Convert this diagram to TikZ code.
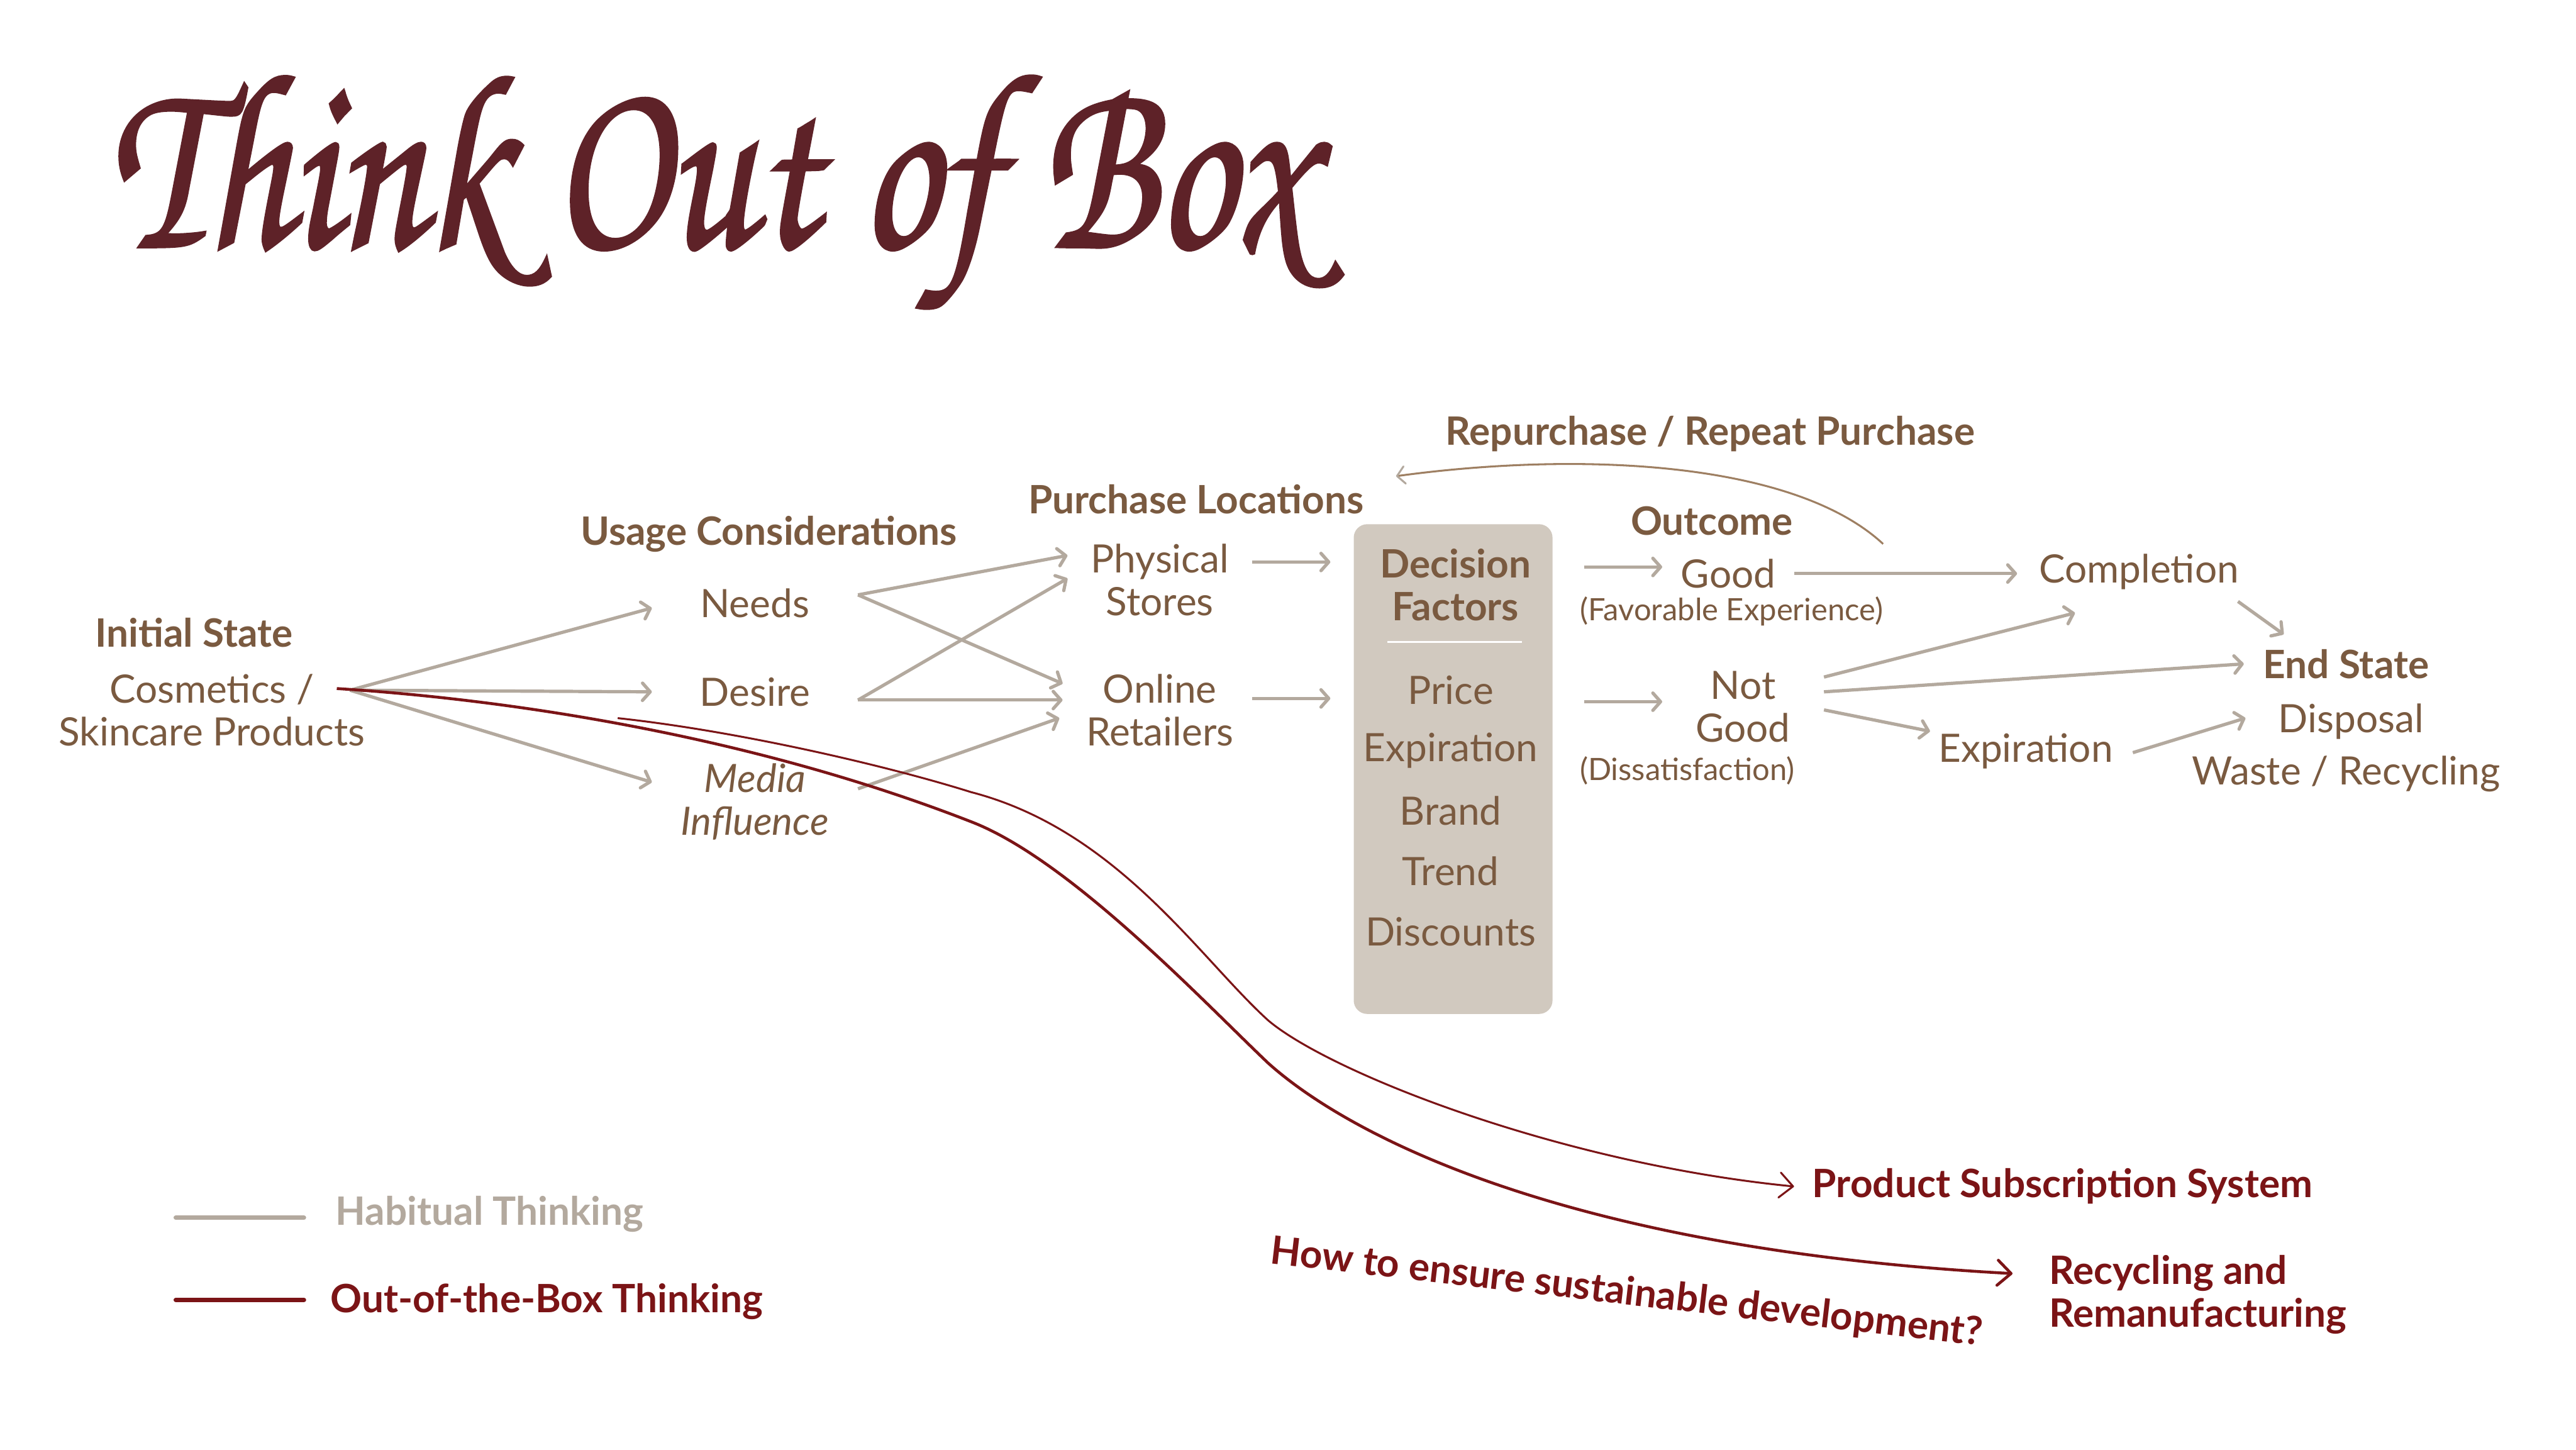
\documentclass[tikz,border=0pt]{standalone}
\usepackage{fontspec}
\setmainfont{Lato}
\newfontfamily\titlefont[FakeBold=1.5]{TeX Gyre Chorus}
\usetikzlibrary{arrows.meta,calc}
\definecolor{ink}{HTML}{7A5A40}
\definecolor{habit}{HTML}{B3A99E}
\definecolor{oob}{HTML}{7B1416}
\definecolor{boxfill}{HTML}{D1C9BF}
\definecolor{loopc}{HTML}{9E7F62}
\definecolor{titlec}{HTML}{5E2228}
\begin{document}
\begin{tikzpicture}[x=0.03cm,y=-0.03cm,
  >={Straight Barb[length=4pt,width=9pt,round]},
  lbl/.style={text=ink,font=\fontsize{20.3}{22.2}\selectfont,align=center,inner sep=0pt},
  head/.style={lbl,font=\fontsize{20.3}{22.2}\selectfont\bfseries},
  small/.style={lbl,font=\fontsize{16}{18}\selectfont},
  habit/.style={draw=habit,line width=1.7pt,->},
  think/.style={draw=oob,->,>={Straight Barb[length=7pt,width=13pt,round]}},
  redtxt/.style={text=oob,font=\fontsize{20.3}{22.2}\selectfont\bfseries,inner sep=0pt,align=left}]
\useasboundingbox (0,0) rectangle (1568,882);
\fill[white] (0,0) rectangle (1568,882);

% title
\node[text=titlec,font=\titlefont\fontsize{100}{100}\selectfont,anchor=base west,yscale=1.3] (title) at (62,150) {Think Out of Box};

% initial state
\node[head] (initial) at (118,385) {Initial State};
\node[lbl] (cosm) at (129,432) {Cosmetics /\\Skincare Products};
\coordinate (src) at (213,420);

% usage considerations
\node[head] (usage) at (468,325) {Usage Considerations};
\node[lbl,minimum width=3.75cm] (needs) at (459.5,367) {Needs};
\node[lbl,minimum width=3.75cm] (desire) at (459.5,421) {Desire};
\node[lbl,minimum width=3.75cm,font=\fontsize{20.3}{22.2}\selectfont\itshape] (media) at (459.5,488) {Media\\Influence};

% purchase locations
\node[head] (purch) at (728,304) {Purchase Locations};
\node[lbl,minimum width=3.48cm] (phys) at (706,353) {Physical\\Stores};
\node[lbl,minimum width=3.48cm] (onl) at (706,432) {Online\\Retailers};

% decision factors
\node[fill=boxfill,rounded corners=7pt,minimum width=3.63cm,minimum height=8.94cm,inner sep=0pt] (dec) at (884.5,468) {};
\node[head] (dectitle) at (886,356) {Decision\\Factors};
\draw[white,line width=0.9pt] ($(dec.north)+(-40,72)$) -- ($(dec.north)+(42,72)$);
\foreach \t [count=\i] in {Price,Expiration,Brand,Trend,Discounts}
  \node[lbl] (fac\i) at (883,{383.25+36.75*\i}) {\t};

% outcome
\node[head] (outc) at (1042,317) {Outcome};
\node[lbl,minimum width=2.4cm] (good) at (1052,349) {Good};
\node[small] (fav) at (1054,372) {(Favorable Experience)};
\node[lbl,minimum width=2.94cm] (notgood) at (1061,430) {Not\\Good};
\node[small] (dissat) at (1027,469) {(Dissatisfaction)};
\node[head] (repeat) at (1041,264) {Repurchase / Repeat Purchase};

% end of use
\node[lbl,minimum width=4.44cm] (comp) at (1302,348) {Completion};
\node[lbl,minimum width=3.6cm] (expi) at (1233,457) {Expiration};
\node[head,minimum width=3.72cm] (endst) at (1428,404) {End State};
\node[lbl,minimum width=3.84cm] (disp) at (1431,439) {Disposal};
\node[lbl] (waste) at (1428,471) {Waste / Recycling};

% out-of-the-box answers
\node[redtxt,anchor=west] (pss) at (1103,722) {Product Subscription System};
\node[redtxt,anchor=west] (recyc) at (1247,788) {Recycling and\\Remanufacturing};
\node[redtxt,rotate=-6.6] (quest) at (990,787) {How to ensure sustainable development?};

% legend
\node[redtxt,text=habit,anchor=west] (legh) at (204,739) {Habitual Thinking};
\node[redtxt,anchor=west] (lego) at (201,792) {Out-of-the-Box Thinking};
\draw[habit,-,line width=2.3pt,line cap=round] ($(legh.west)+(-97,2)$) -- ($(legh.west)+(-19,2)$);
\draw[draw=oob,line width=2.3pt,line cap=round] ($(lego.west)+(-94,-1)$) -- ($(lego.west)+(-16,-1)$);

% habitual flow
\draw[habit] (src) -- ($(needs.west)+(0,3)$);
\draw[habit] (src) -- (desire.west);
\draw[habit] (src) -- ($(media.west)+(0,-12)$);
\draw[habit] ($(needs.east)+(0,-5)$) -- ($(phys.west)+(2,-15)$);
\draw[habit] ($(needs.east)+(0,-5)$) -- ($(onl.west)+(-1,-16)$);
\draw[habit] ($(desire.east)+(0,5)$) -- ($(phys.west)+(2,-1)$);
\draw[habit] ($(desire.east)+(0,5)$) -- ($(onl.west)+(-1,-6)$);
\draw[habit] ($(media.east)+(0,-8)$) -- ($(onl.west)+(-3,5)$);
\draw[habit] ($(phys.east)+(-2,-11)$) -- ($(phys.east -| dec.west)+(-14,-11)$);
\draw[habit] ($(onl.east)+(-2,-7)$) -- ($(onl.east -| dec.west)+(-14,-7)$);
\draw[habit] ($(good.west -| dec.east)+(19,-4)$) -- ($(good.west)+(0,-4)$);
\draw[habit] ($(notgood.west -| dec.east)+(19,-3)$) -- ($(notgood.west)+(0,-3)$);
\draw[habit] (good.east) -- (good.east -| comp.west);
\draw[habit] ($(notgood.east)+(0,-18)$) -- ($(comp.center)+(-39,25)$);
\draw[habit] ($(notgood.east)+(0,-9)$) -- (endst.west);
\draw[habit] ($(notgood.east)+(0,2)$) -- ($(expi.west)+(2,-12)$);
\draw[habit] ($(expi.east)+(5,1)$) -- ($(disp.west)+(0,-2)$);
\draw[habit] ($(comp.east)+(-14,18)$) -- ($(endst.center)+(-38,-18)$);

% repurchase loop
\draw[draw=loopc,line width=1pt,->,>={Straight Barb[length=4pt,width=9pt,round,color=habit]}]
  ($(good.east)+(54,-18)$) .. controls +(-55,-51) and +(110,-15) .. ($(dec.north west)+(26,-29)$);

% out-of-the-box paths
\coordinate (redsrc) at ($(src)+(-8,-1)$);
\coordinate (split) at (376,437);
\coordinate (recin) at ($(recyc.west)+(-22,-13)$);
\coordinate (subin) at ($(pss.west)+(-11,0)$);
\draw[think,line width=1.5pt] (redsrc) .. controls (300,425) and (450,445) .. (591,500)
  .. controls (651,523) and (732,609) .. (772,647)
  .. controls (820,690) and (950,760) .. (recin);
\draw[think,line width=1pt] (split) .. controls (450,445) and (540,466) .. (591,482)
  .. controls (680,505) and (730,583) .. (772,621)
  .. controls (810,653) and (950,708) .. (subin);
\end{tikzpicture}
\end{document}
